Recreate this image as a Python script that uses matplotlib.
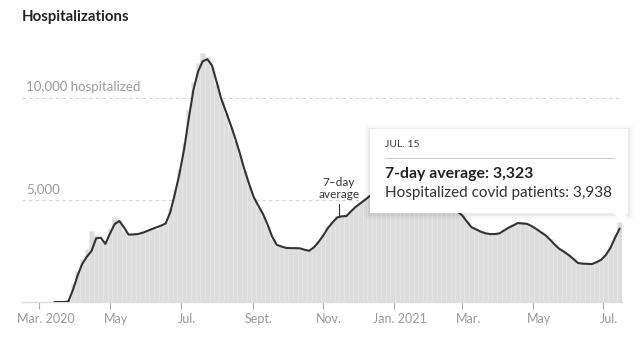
import numpy as np
import matplotlib.pyplot as plt
import matplotlib.dates as mdates
import matplotlib.transforms as mtransforms
from matplotlib.patches import Rectangle, Polygon

# data every 4 days starting Mar. 14, 2020
start_date = np.datetime64('2020-03-14')
step_days = 4

avg_7day = [0, 0, 0, 20, 600, 1300, 1870, 2220, 2500, 3120,
            3150, 2850, 3360, 3820, 3970, 3660, 3300, 3310, 3330, 3390,
            3480, 3570, 3660, 3740, 3850, 4400, 5300, 6300, 7500, 9000,
            10400, 11300, 11800, 11900, 11600, 10800, 9960, 9350, 8710, 8040,
            7300, 6500, 5800, 5150, 4720, 4320, 3800, 3200, 2800, 2720,
            2650, 2640, 2640, 2630, 2560, 2510, 2680, 2940, 3250, 3620,
            3890, 4140, 4200, 4210, 4440, 4660, 4830, 5000, 5180, 5400,
            5600, 5900, 6200, 6500, 6750, 6900, 7000, 6900, 6700, 6500,
            6200, 5900, 5650, 5400, 5150, 4900, 4650, 4430, 4250, 3950,
            3670, 3560, 3450, 3370, 3330, 3330, 3360, 3500, 3640, 3750,
            3870, 3850, 3830, 3720, 3580, 3420, 3270, 3050, 2810, 2600,
            2460, 2300, 2110, 1910, 1880, 1870, 1860, 1950, 2070, 2300,
            2650, 3150, 3600]

hospitalized = [0, 0, 0, 80, 900, 1500, 2100, 2600, 3500, 3300,
                3000, 3000, 3600, 4150, 4000, 3500, 3250, 3400, 3300, 3500,
                3550, 3650, 3600, 3800, 3900, 4600, 5500, 6500, 7800, 9400,
                10800, 11700, 12200, 12000, 11500, 10700, 9900, 9200, 8600, 7900,
                7200, 6400, 5700, 5100, 4600, 4200, 3700, 3100, 2750, 2700,
                2650, 2600, 2650, 2600, 2550, 2520, 2750, 3000, 3350, 3700,
                3950, 4200, 4250, 4300, 4500, 4700, 4900, 5100, 5250, 5450,
                5700, 6000, 6300, 6600, 6800, 7000, 7050, 6950, 6750, 6500,
                6250, 5950, 5700, 5450, 5200, 4950, 4700, 4450, 4250, 3950,
                3700, 3600, 3500, 3400, 3350, 3350, 3400, 3550, 3700, 3800,
                3900, 3900, 3850, 3750, 3600, 3450, 3300, 3100, 2850, 2650,
                2500, 2350, 2150, 1950, 1900, 1900, 1900, 2000, 2100, 2350,
                2750, 3300, 3938]

tick_dates = ['2020-03-01', '2020-05-01', '2020-07-01', '2020-09-01', '2020-11-01',
              '2021-01-01', '2021-03-01', '2021-05-01', '2021-07-01']
tick_labels = ['Mar. 2020', 'May', 'Jul.', 'Sept.', 'Nov.', 'Jan. 2021', 'Mar.', 'May', 'Jul.']
grid_values = [5000, 10000]
grid_labels = ['5,000', '10,000 hospitalized']

W, H = 641, 352
fig = plt.figure(figsize=(W / 100, H / 100), dpi=100)
plt.rcParams['font.family'] = ['Lato', 'DejaVu Sans']


def fx(x):
    return x / W


def fy(y):
    return 1 - y / H


ax = fig.add_axes([fx(22), fy(302), fx(622) - fx(22), fy(47) - fy(302)])

dates = start_date + np.arange(len(avg_7day)) * step_days
xd = mdates.date2num(dates)

ax.bar(xd, hospitalized, width=step_days, align='center', color='#dddddd',
       edgecolor='#e8e8e8', linewidth=0.4, zorder=1)
ax.plot(xd, avg_7day, color='#333333', lw=1.5, zorder=3, solid_capstyle='round')

for v, lab in zip(grid_values, grid_labels):
    ax.axhline(v, color='#d4d4d4', lw=0.8, ls=(0, (3, 3)), zorder=0.5)
    ax.text(0.007, v + 520, lab, transform=ax.get_yaxis_transform(), color='#999999',
            fontsize=9.5, va='center', ha='left')

ax.set_xlim(mdates.date2num(np.datetime64('2020-02-15')), mdates.date2num(np.datetime64('2021-07-17')))
ax.set_ylim(0, 12500)
ax.set_xticks(mdates.date2num(np.array(tick_dates, dtype='datetime64[D]')))
ax.set_xticklabels(tick_labels, color='#999999', fontsize=9)
ax.set_yticks([])
ax.tick_params(axis='x', length=5, color='#aaaaaa', width=0.8, pad=3)
shift = mtransforms.ScaledTranslation(6 / 100, 0, fig.dpi_scale_trans)
for lbl in ax.get_xticklabels():
    lbl.set_transform(lbl.get_transform() + shift)
for s in ['top', 'right', 'left']:
    ax.spines[s].set_visible(False)
ax.spines['bottom'].set_color('#dddddd')
ax.spines['bottom'].set_linewidth(1)

# 7-day average callout
fig.text(fx(339), fy(183), '7–day', ha='center', va='center', fontsize=8.5, color='#333333')
fig.text(fx(339), fy(195), 'average', ha='center', va='center', fontsize=8.5, color='#333333')
fig.add_artist(plt.Line2D([fx(339), fx(339)], [fy(204), fy(216)], color='#333333', lw=0.8, zorder=4))

fig.text(fx(22), fy(17), 'Hospitalizations', fontsize=10.8, fontweight='bold', color='#222222',
         ha='left', va='center')

# tooltip with soft shadow
x0, y0, x1, y1 = 370, 129, 628, 213
for k, a in [(6, 0.015), (4, 0.025), (2, 0.04)]:
    fig.add_artist(Rectangle((fx(x0 - k), fy(y1 + k + 1)), fx(x1 - x0 + 2 * k), fy(0) - fy(y1 - y0 + 2 * k),
                             facecolor='black', alpha=a, edgecolor='none', zorder=5))
fig.add_artist(Polygon([(fx(611), fy(212)), (fx(628), fy(212)), (fx(623), fy(221))],
                       closed=True, facecolor='white', edgecolor='none', zorder=6))
fig.add_artist(Rectangle((fx(x0), fy(y1)), fx(x1 - x0), fy(0) - fy(y1 - y0),
                         facecolor='white', edgecolor='none', zorder=6))
fig.add_artist(plt.Line2D([fx(385), fx(614)], [fy(158), fy(158)], color='#cccccc', lw=0.8, zorder=7))
fig.text(fx(385), fy(145), 'JUL. 15', fontsize=7.5, color='#333333', va='center', ha='left', zorder=7)
fig.text(fx(385), fy(174), '7-day average: 3,323', fontsize=11.4, fontweight='bold', color='#222222',
         va='center', ha='left', zorder=7)
fig.text(fx(385), fy(193), 'Hospitalized covid patients: 3,938', fontsize=11, color='#333333',
         va='center', ha='left', zorder=7)

fig.savefig('out.png', dpi=100, facecolor='white')
